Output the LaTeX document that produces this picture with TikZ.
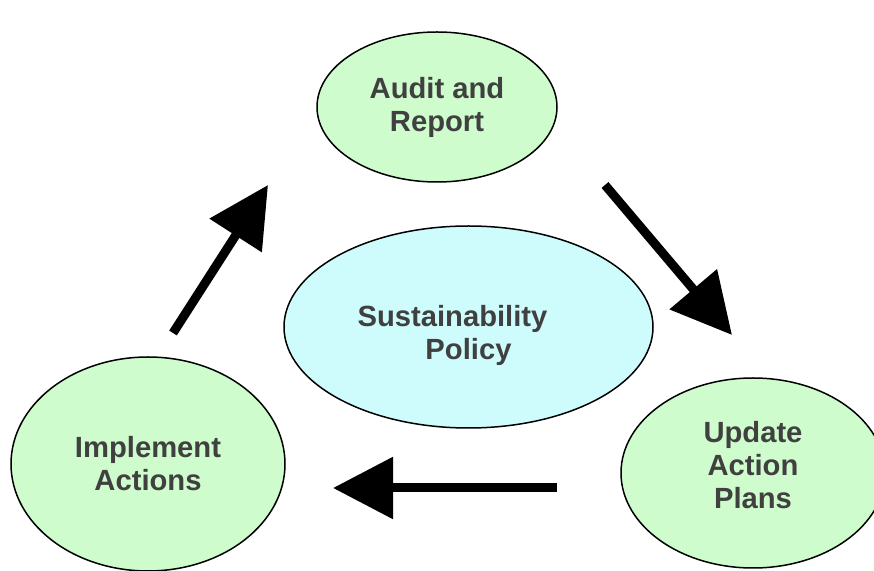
\documentclass[tikz,border=0pt]{standalone}
\usepackage{fontspec}
\setmainfont{Liberation Sans}
\usetikzlibrary{arrows.meta,positioning,shapes.geometric,calc}
\definecolor{phasegreen}{RGB}{206,252,204}
\definecolor{policyblue}{RGB}{206,252,252}
\definecolor{labelgrey}{RGB}{64,64,64}

\begin{document}
\begin{tikzpicture}[x=0.5pt, y=-0.5pt, ->, >={Triangle[length=30pt, width=30pt]}]
\tikzstyle{phase}=[ellipse,fill=phasegreen,draw=black,line width=0.75pt,inner sep=0pt,text=labelgrey,align=center,font=\bfseries\fontsize{14.6}{16.5}\selectfont]
\tikzstyle{policy}=[phase,fill=policyblue]
\tikzstyle{phasetext}=[text=labelgrey,align=center,inner sep=0pt,font=\bfseries\fontsize{14.6}{16.5}\selectfont]
\tikzstyle{flow}=[line width=4.5pt]
\useasboundingbox (0,0) rectangle (874,571);
\node[phase]    (AR) at (437,107)   [minimum width=120pt,minimum height=75pt]   {Audit and\\Report};
\node[policy]   (SP) at (468.5,327) [minimum width=184.5pt,minimum height=101pt] {};
\node[phasetext] (SPtext) at ($(SP)+(-16,8)$) {Sustainability\\\hspace*{16pt}Policy};
\node[phase]    (UP) at (753,473)   [minimum width=132pt,minimum height=95pt]   {};
\node[phasetext] (UPtext) at ($(UP)+(0,-8)$) {Update\\Action\\Plans};
\node[phase]    (IA) at (148,464)   [minimum width=137pt,minimum height=107pt]  {Implement\\Actions};
% free ends of the cycle arrows
\coordinate (IAout) at (173,333);
\coordinate (ARin)  at (268,185);
\coordinate (ARout) at (605,185);
\coordinate (UPin)  at (732,335);
\coordinate (UPout) at (557,488);
\coordinate (IAin)  at (333,488);
\path
(IAout) edge[flow]  (ARin)
(ARout) edge[flow]  (UPin)
(UPout) edge[flow]  (IAin);
\end{tikzpicture}
\end{document}
